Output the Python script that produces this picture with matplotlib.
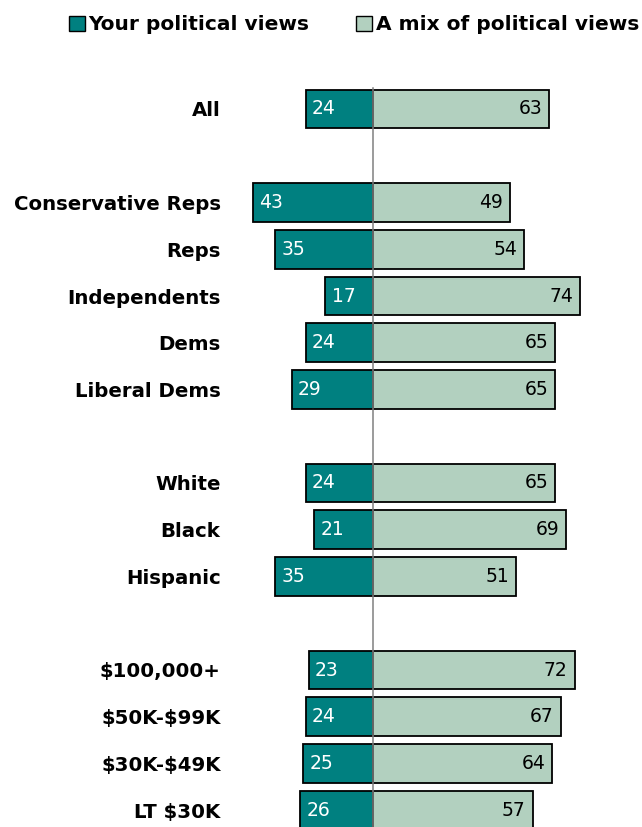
import matplotlib
matplotlib.use("Agg")
import matplotlib.pyplot as plt
from matplotlib.patches import Patch

categories = ["All", "Conservative Reps", "Reps", "Independents", "Dems", "Liberal Dems",
              "White", "Black", "Hispanic", "$100,000+", "$50K-$99K", "$30K-$49K", "LT $30K"]
row_pos = [0, 2, 3, 4, 5, 6, 8, 9, 10, 12, 13, 14, 15]
your_views = [24, 43, 35, 17, 24, 29, 24, 21, 35, 23, 24, 25, 26]
mix_views = [63, 49, 54, 74, 65, 65, 65, 69, 51, 72, 67, 64, 57]
series_names = ["Your political views", "A mix of political views"]

DARK = "#008080"
LIGHT = "#B2D0BF"

plt.rcParams['font.family'] = ['DejaVu Sans']
plt.rcParams['text.parse_math'] = False

W, H = 642, 827
fig = plt.figure(figsize=(W / 100, H / 100), dpi=100)

# axes in pixel coords
ax_left, ax_right = 240, 642
ax_top, ax_bot = 60, 827
ax = fig.add_axes([ax_left / W, 1 - ax_bot / H, (ax_right - ax_left) / W, (ax_bot - ax_top) / H])

center = 373.0
ppu = 2.8
row0, rowstep = 109.0, 46.75
ax.set_xlim(-(center - ax_left) / ppu, (ax_right - center) / ppu)
ax.set_ylim((ax_bot - row0) / rowstep, (ax_top - row0) / rowstep)

bh = 0.83
ax.barh(row_pos, [-v for v in your_views], height=bh, color=DARK, edgecolor="black", linewidth=1.3, zorder=2)
ax.barh(row_pos, mix_views, height=bh, color=LIGHT, edgecolor="black", linewidth=1.3, zorder=2)
ax.plot([0, 0], [(88 - row0) / rowstep, (ax_bot - row0) / rowstep + 1], color="#808080", lw=1.1, zorder=3)

for y, a, b in zip(row_pos, your_views, mix_views):
    ax.annotate(str(a), (-a, y), xytext=(4.5, 0), textcoords="offset points", ha="left", va="center",
                color="white", fontsize=13.5)
    ax.annotate(str(b), (b, y), xytext=(-5, 0), textcoords="offset points", ha="right", va="center",
                color="black", fontsize=13.5)

ax.set_yticks(row_pos)
ax.set_yticklabels(categories, fontsize=14.2, fontweight="bold")
ax.tick_params(axis="y", length=0, pad=14)
ax.set_xticks([])
for s in ax.spines.values():
    s.set_visible(False)

handles = [Patch(facecolor=DARK, edgecolor="black", linewidth=1.0),
           Patch(facecolor=LIGHT, edgecolor="black", linewidth=1.0)]
fig.legend(handles, series_names, loc="center", bbox_to_anchor=(354 / W, 1 - 25 / H), ncol=2, frameon=False,
           prop={"weight": "bold", "size": 14.5}, handlelength=0.8, handleheight=0.8, handletextpad=0.2,
           columnspacing=2.3, borderpad=0)

fig.savefig("out.png", dpi=100)
